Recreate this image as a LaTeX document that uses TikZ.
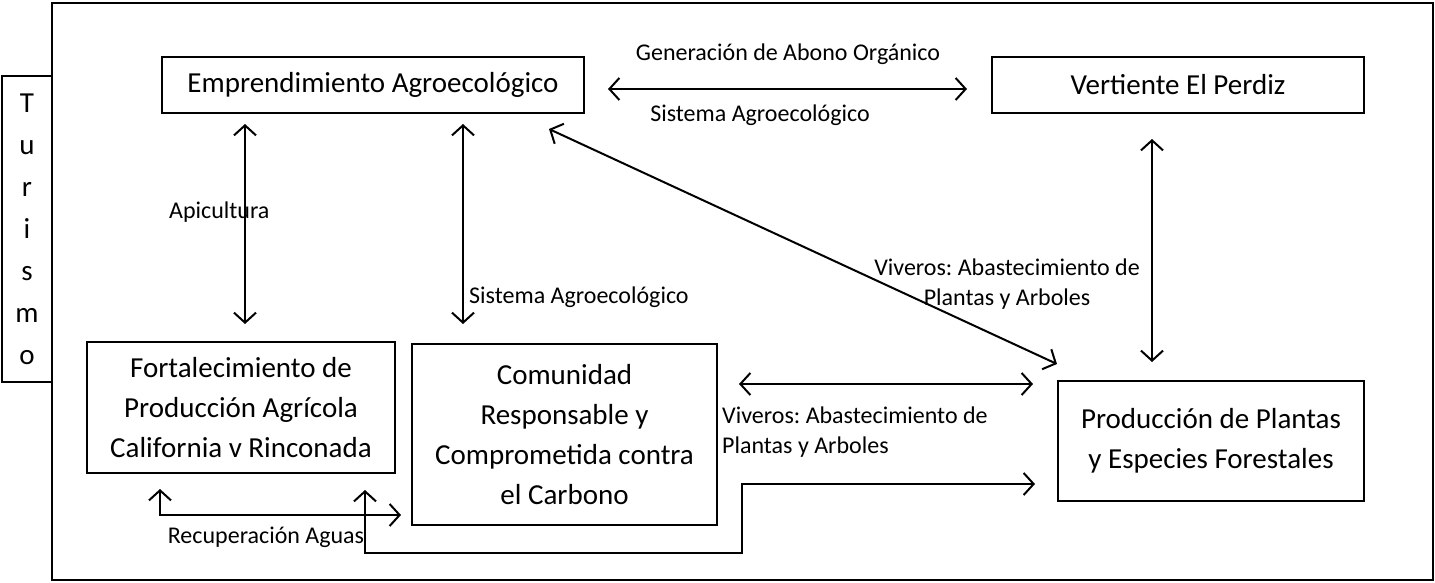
\documentclass[tikz,border=0pt]{standalone}
\usepackage{fontspec}
\setmainfont{Carlito}
\frenchspacing
\usetikzlibrary{arrows.meta,calc}
\tikzset{
  box/.style={draw, line width=2pt, inner sep=0pt, align=center, font=\fontsize{29}{40}\selectfont},
  lbl/.style={inner sep=0pt, font=\fontsize{24}{30}\selectfont},
  dbl/.style={line width=2pt, {Straight Barb[length=10pt,width=22pt,line width=2pt]}-{Straight Barb[length=10pt,width=22pt,line width=2pt]}}
}
\begin{document}
\begin{tikzpicture}[x=1pt,y=-1pt]
\useasboundingbox (0,0) rectangle (1435,582);
% outer frame
\node[draw, line width=2pt, minimum width=1381pt, minimum height=577pt, inner sep=0pt] (frame) at (742.5,291.5) {};
% Turismo
\node[draw, line width=2pt, fill=white, minimum width=50pt, minimum height=306pt, inner sep=0pt, align=center, font=\fontsize{29}{42}\selectfont] (tur) at (27,229) {T\\u\\r\\i\\s\\m\\o};
% boxes
\node[box, minimum width=422pt, minimum height=56pt] (emp) at (373,85) {Emprendimiento Agroecológico};
\node[box, minimum width=372pt, minimum height=56pt] (ver) at (1178,85) {Vertiente El Perdiz};
\node[box, minimum width=308pt, minimum height=131pt] (fort) at (241,407.5) {Fortalecimiento de\\Producción Agrícola\\California v Rinconada};
\node[box, minimum width=305pt, minimum height=181pt] (com) at (564.5,434.5) {Comunidad\\Responsable y\\Comprometida contra\\el Carbono};
\node[box, minimum width=306pt, minimum height=120pt] (prod) at (1211,441) {Producción de Plantas\\y Especies Forestales};
% labels
\node[lbl] (l1) at (788,54) {Generación de Abono Orgánico};
\node[lbl] (l2) at (760,115) {Sistema Agroecológico};
\node[lbl, anchor=west] (l3) at (169,212) {Apicultura};
\node[lbl, anchor=west] (l4) at (469,297) {Sistema Agroecológico};
\node[lbl, align=center] (l5) at (1007,284) {Viveros: Abastecimiento de\\Plantas y Arboles};
\node[lbl, align=left, anchor=west] (l6) at (722,432) {Viveros: Abastecimiento de\\Plantas y Arboles};
\node[lbl] (l7) at (266,537) {Recuperación Aguas};
% connectors
\draw[dbl] ($(emp.east)+(23,4)$) -- ($(ver.west)+(-24,4)$);
\draw[dbl] ($(emp.south west)+(84,10)$) -- ($(fort.north west)+(159,-17)$);
\draw[dbl] ($(emp.south west)+(302,10)$) -- ($(com.north west)+(52,-19)$);
\draw[dbl] ($(emp.south east)+(-36,15)$) -- ($(prod.north west)+(0,-16)$);
\draw[dbl] ($(ver.south west)+(161,25)$) -- ($(prod.north west)+(95,-18)$);
\draw[dbl] ($(com.north east)+(21,41)$) -- ($(prod.north west)+(-24,4)$);
\draw[dbl] ($(fort.south west)+(74,15)$) |- ($(com.south west)+(-10,-11)$);
\coordinate (bend) at (742,553);
\draw[dbl] ($(fort.south west)+(279,16)$) |- (bend) |- ($(prod.south west)+(-22,-18)$);
\end{tikzpicture}
\end{document}
